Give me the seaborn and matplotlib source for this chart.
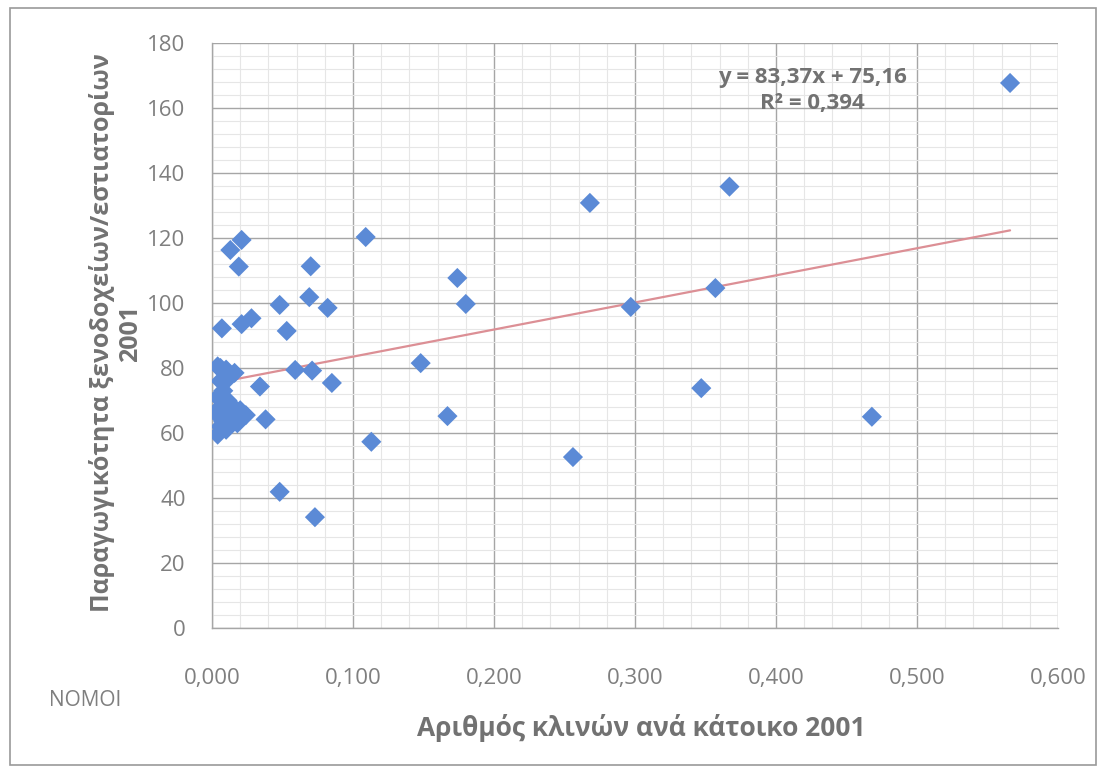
import matplotlib
matplotlib.use("Agg")
import matplotlib.pyplot as plt
import matplotlib.patches as mpatches
from matplotlib.ticker import MultipleLocator, FuncFormatter
import numpy as np
import pandas as pd
import seaborn as sns

# Data: beds per inhabitant (x) vs productivity of hotels/restaurants (y), 2001
beds_per_inhabitant = [
    0.566, 0.367, 0.268, 0.109, 0.021, 0.013, 0.019, 0.070, 0.174, 0.357,
    0.069, 0.180, 0.048, 0.297, 0.082, 0.028, 0.021, 0.007, 0.053, 0.148,
    0.006, 0.016, 0.059, 0.071, 0.085, 0.034, 0.347, 0.167, 0.468, 0.038,
    0.113, 0.256, 0.048, 0.073,
    0.004, 0.010, 0.006, 0.012, 0.008, 0.004, 0.011, 0.006, 0.015, 0.020,
    0.003, 0.009, 0.014, 0.024, 0.018, 0.006, 0.010, 0.004, 0.008,
]
productivity = [
    167.7, 135.8, 130.8, 120.3, 119.4, 116.3, 111.2, 111.3, 107.7, 104.6,
    101.8, 99.7, 99.4, 98.8, 98.5, 95.3, 93.5, 92.2, 91.4, 81.5,
    80.0, 78.5, 79.4, 79.2, 75.4, 74.3, 73.8, 65.2, 65.0, 64.2,
    57.3, 52.6, 41.9, 34.1,
    80.5, 79.5, 76.0, 77.0, 73.0, 71.0, 70.0, 68.0, 68.0, 67.0,
    66.0, 65.0, 64.5, 65.5, 63.0, 62.0, 61.0, 59.5, 63.5,
]
trend_slope = 83.37
trend_intercept = 75.16
equation_text = "y = 83,37x + 75,16"
r2_text = "R² = 0,394"
x_label = "Αριθμός κλινών ανά κάτοικο 2001"
y_label = "Παραγωγικότητα ξενοδοχείων/εστιατορίων\n2001"
corner_label = "ΝΟΜΟΙ"

df = pd.DataFrame({"x": beds_per_inhabitant, "y": productivity})

sns.set_theme(style="white")
plt.rcParams["font.family"] = ["Open Sans", "DejaVu Sans"]

W, H = 1106, 773
fig = plt.figure(figsize=(W / 100, H / 100), dpi=100)
left_px, right_px, top_px, bottom_px = 212, 1058, 43, 628
ax = fig.add_axes([left_px / W, 1 - bottom_px / H,
                   (right_px - left_px) / W, (bottom_px - top_px) / H])

grey_text = "#7f7f7f"
dark_text = "#727272"

# grid
ax.xaxis.set_major_locator(MultipleLocator(0.1))
ax.xaxis.set_minor_locator(MultipleLocator(0.02))
ax.yaxis.set_major_locator(MultipleLocator(20))
ax.yaxis.set_minor_locator(MultipleLocator(4))
ax.grid(which="major", color="#a6a6a6", linewidth=1.0)
ax.grid(which="minor", color="#e6e6e6", linewidth=0.8)
ax.set_axisbelow(True)

# trend line
x_line = np.array([min(beds_per_inhabitant), max(beds_per_inhabitant)])
trend_df = pd.DataFrame({"x": x_line, "y": trend_slope * x_line + trend_intercept})
sns.lineplot(data=trend_df, x="x", y="y", ax=ax, color="#dc8f95", linewidth=1.6, zorder=3)

# points
sns.scatterplot(data=df, x="x", y="y", ax=ax, marker="D", s=105,
                color="#5b8ad6", edgecolor="none", zorder=4)

ax.set_xlim(0, 0.6)
ax.set_ylim(0, 180)

ax.xaxis.set_major_formatter(FuncFormatter(lambda v, p: f"{v:.3f}".replace(".", ",")))
ax.yaxis.set_major_formatter(FuncFormatter(lambda v, p: f"{v:.0f}"))
ax.tick_params(axis="both", which="both", length=0, labelsize=16, labelcolor=grey_text)
ax.tick_params(axis="x", pad=29)
ax.tick_params(axis="y", pad=19)

for side in ["top", "right"]:
    ax.spines[side].set_visible(False)
for side in ["left", "bottom"]:
    ax.spines[side].set_color("#a6a6a6")
    ax.spines[side].set_linewidth(1.0)

ax.set_xlabel("")
ax.set_ylabel("")
fig.text(641 / W, 1 - 728 / H, x_label, fontsize=19, fontweight="bold",
         color=dark_text, ha="center", va="center")
fig.text(116 / W, 1 - 333 / H, y_label, fontsize=18, fontweight="bold",
         color=dark_text, ha="center", va="center", rotation=90,
         multialignment="center", linespacing=1.15)

ax.text(0.426, 169.5, equation_text, fontsize=16, fontweight="bold", color=dark_text,
        ha="center", va="center")
ax.text(0.426, 161.5, r2_text, fontsize=16, fontweight="bold", color=dark_text,
        ha="center", va="center")

fig.text(85 / W, 1 - 700 / H, corner_label, fontsize=15, color=grey_text,
         ha="center", va="center")

# outer chart border
fig.patches.append(mpatches.Rectangle((10 / W, 8 / H), 1 - 20 / W, 1 - 16 / H,
                                      transform=fig.transFigure, fill=False,
                                      edgecolor="#9a9a9a", linewidth=1.2))

fig.savefig("out.png", dpi=100, facecolor="white")
